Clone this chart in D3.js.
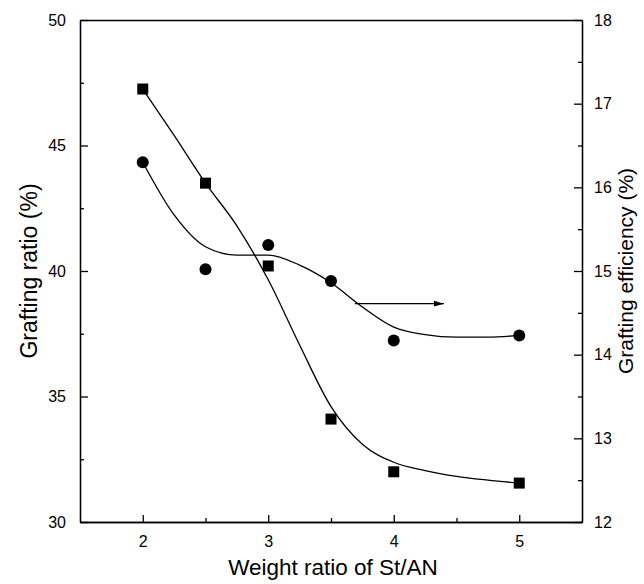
<!DOCTYPE html>
<html>
<head>
<meta charset="utf-8">
<script src="https://cdn.jsdelivr.net/npm/d3@7"></script>
<style>
  body { margin: 0; background: #fff; }
  text { font-family: "Liberation Sans", Arial, sans-serif; fill: #000; }
  .axis path, .axis line { stroke: #000; stroke-width: 1.3; }
</style>
</head>
<body>
<script>
// measured points
const stAn = [2, 2.5, 3, 3.5, 4, 5];
const graftRatio = [47.25, 43.5, 40.2, 34.1, 32.0, 31.55];
const graftEff = [16.3, 15.02, 15.31, 14.88, 14.17, 14.23];

// fitted curves
const fitX = [2, 2.25, 2.5, 2.75, 3, 3.25, 3.5, 3.75, 4, 4.25, 4.5, 4.75, 5];
const ratioFit = [47.25, 45.4, 43.5, 41.8, 39.65, 37.05, 34.6, 33.1, 32.38, 32.05, 31.82, 31.67, 31.55];
const effFit = [16.3, 15.67, 15.29, 15.19, 15.19, 15.07, 14.86, 14.57, 14.33, 14.24, 14.21, 14.21, 14.23];

// arrow pointing at right axis
const arrowX = [3.69, 4.4];
const arrowY = 14.61;

const xTicks = [2, 3, 4, 5];
const xMinor = [2.5, 3.5, 4.5];
const leftTicks = [30, 35, 40, 45, 50];
const leftMinor = [32.5, 37.5, 42.5, 47.5];
const rightTicks = [12, 13, 14, 15, 16, 17, 18];
const rightMinor = [12.5, 13.5, 14.5, 15.5, 16.5, 17.5];

const W = 644, H = 584;
const margin = {top: 20, right: 62, bottom: 62, left: 80};
const width = W - margin.left - margin.right;
const height = H - margin.top - margin.bottom;

const svg = d3.select('body').append('svg')
  .attr('width', W)
  .attr('height', H);

const g = svg.append('g')
  .attr('transform', `translate(${margin.left},${margin.top})`);

const x = d3.scaleLinear().domain([1.5, 5.5]).range([0, width]);
const yL = d3.scaleLinear().domain([30, 50]).range([height, 0]);
const yR = d3.scaleLinear().domain([12, 18]).range([height, 0]);
const fmt = d3.format('d');

// minor ticks first, then main axes
g.append('g').attr('class', 'axis').attr('transform', `translate(0,${height})`)
  .call(d3.axisBottom(x).tickValues(xMinor).tickSize(-4).tickFormat('').tickSizeOuter(0));
g.append('g').attr('class', 'axis')
  .call(d3.axisLeft(yL).tickValues(leftMinor).tickSize(-4).tickFormat('').tickSizeOuter(0));
g.append('g').attr('class', 'axis').attr('transform', `translate(${width},0)`)
  .call(d3.axisRight(yR).tickValues(rightMinor).tickSize(-4).tickFormat('').tickSizeOuter(0));

const gx = g.append('g').attr('class', 'axis').attr('transform', `translate(0,${height})`)
  .call(d3.axisBottom(x).tickValues(xTicks).tickFormat(fmt).tickSize(-7).tickPadding(14).tickSizeOuter(0));
const gl = g.append('g').attr('class', 'axis')
  .call(d3.axisLeft(yL).tickValues(leftTicks).tickFormat(fmt).tickSize(-8).tickPadding(14).tickSizeOuter(0));
const gr = g.append('g').attr('class', 'axis').attr('transform', `translate(${width},0)`)
  .call(d3.axisRight(yR).tickValues(rightTicks).tickFormat(fmt).tickSize(-8).tickPadding(12).tickSizeOuter(0));
g.append('g').attr('class', 'axis')
  .call(d3.axisTop(x).tickValues([]).tickSizeOuter(0));

[gx, gl, gr].forEach((a) => a.selectAll('text').style('font-size', '16px'));

// fitted lines
const lineL = d3.line().x((d, i) => x(fitX[i])).y((d) => yL(d)).curve(d3.curveMonotoneX);
const lineR = d3.line().x((d, i) => x(fitX[i])).y((d) => yR(d)).curve(d3.curveMonotoneX);

g.append('path').datum(ratioFit)
  .attr('fill', 'none').attr('stroke', '#000').attr('stroke-width', 1.3)
  .attr('d', lineL);
g.append('path').datum(effFit)
  .attr('fill', 'none').attr('stroke', '#000').attr('stroke-width', 1.3)
  .attr('d', lineR);

// squares = grafting ratio
const sq = 11;
g.selectAll('rect.pt').data(graftRatio).join('rect')
  .attr('class', 'pt')
  .attr('x', (d, i) => x(stAn[i]) - sq / 2)
  .attr('y', (d) => yL(d) - sq / 2)
  .attr('width', sq).attr('height', sq)
  .attr('fill', '#000');

// circles = grafting efficiency
g.selectAll('circle.pt').data(graftEff).join('circle')
  .attr('class', 'pt')
  .attr('cx', (d, i) => x(stAn[i]))
  .attr('cy', (d) => yR(d))
  .attr('r', 6)
  .attr('fill', '#000');

// arrow
svg.append('defs').append('marker')
  .attr('id', 'head')
  .attr('viewBox', '0 0 10 6')
  .attr('refX', 10).attr('refY', 3)
  .attr('markerWidth', 10).attr('markerHeight', 6)
  .attr('markerUnits', 'userSpaceOnUse')
  .attr('orient', 'auto')
  .append('path').attr('d', 'M0,0L10,3L0,6Z').attr('fill', '#000');

g.append('line')
  .attr('x1', x(arrowX[0])).attr('x2', x(arrowX[1]))
  .attr('y1', yR(arrowY)).attr('y2', yR(arrowY))
  .attr('stroke', '#000').attr('stroke-width', 1.2)
  .attr('marker-end', 'url(#head)');

// axis titles
svg.append('text')
  .attr('x', margin.left + width / 2 + 2).attr('y', 575)
  .attr('text-anchor', 'middle')
  .style('font-size', '22.5px')
  .text('Weight ratio of St/AN');

svg.append('text')
  .attr('transform', `translate(37,${margin.top + height / 2}) rotate(-90)`)
  .attr('text-anchor', 'middle')
  .style('font-size', '23px')
  .text('Grafting ratio (%)');

svg.append('text')
  .attr('transform', `translate(633,${margin.top + height / 2}) rotate(-90)`)
  .attr('text-anchor', 'middle')
  .style('font-size', '21px')
  .text('Grafting efficiency (%)');
</script>
</body>
</html>
